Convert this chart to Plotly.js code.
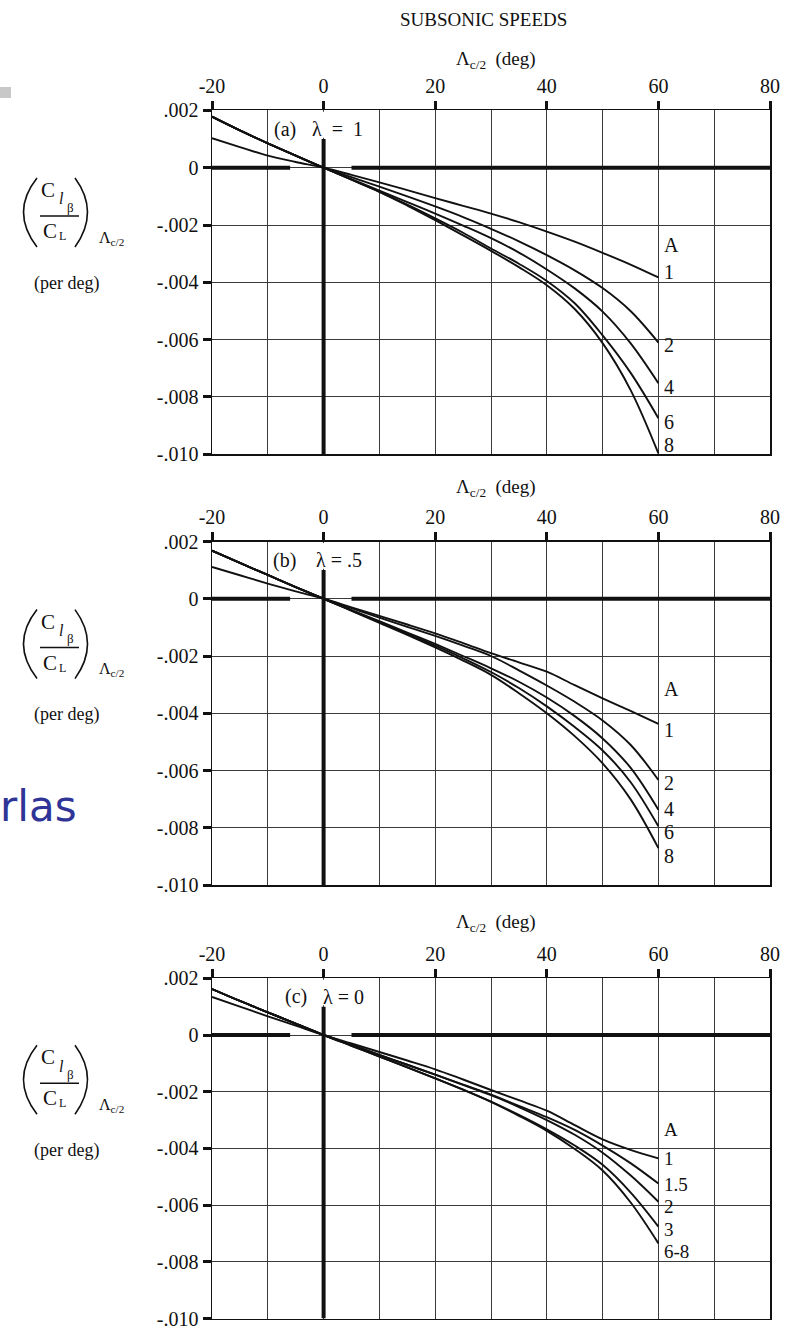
<!DOCTYPE html>
<html>
<head>
<meta charset="utf-8">
<script src="https://cdn.plot.ly/plotly-3.0.1.min.js"></script>
<style>html,body{margin:0;padding:0;background:#fff;}#chart{width:796px;height:1328px;}</style>
</head>
<body>
<div id="chart"></div>
<script>
// ---------- DATA ----------
const sweepDeg = [-20, -15, -10, -5, 0, 5, 10, 15, 20, 25, 30, 35, 40, 45, 50, 55, 60];
const xTickVals = [-20, 0, 20, 40, 60, 80];
const xTickText = ['-20', '0', '20', '40', '60', '80'];
const yTickVals = [0.002, 0, -0.002, -0.004, -0.006, -0.008, -0.010];
const yTickText = ['.002', '0', '-.002', '-.004', '-.006', '-.008', '-.010'];

// (a) taper ratio 1
const a_names = ['1', '2', '4', '6', '8'];
const a_A1 = [0.00103, 0.00072, 0.00042, 0.00020, 0, -0.00025, -0.00051, -0.00078, -0.00106, -0.00133, -0.00160, -0.00190, -0.00223, -0.00258, -0.00297, -0.00338, -0.00383];
const a_A2 = [0.00178, 0.00130, 0.00085, 0.00042, 0, -0.00033, -0.00066, -0.00100, -0.00135, -0.00172, -0.00213, -0.00257, -0.00305, -0.00358, -0.00420, -0.00500, -0.00610];
const a_A4 = [0.00178, 0.00130, 0.00085, 0.00042, 0, -0.00040, -0.00080, -0.00120, -0.00160, -0.00202, -0.00246, -0.00296, -0.00355, -0.00421, -0.00502, -0.00612, -0.00752];
const a_A6 = [0.00178, 0.00130, 0.00085, 0.00042, 0, -0.00042, -0.00084, -0.00129, -0.00177, -0.00227, -0.00282, -0.00335, -0.00395, -0.00473, -0.00585, -0.00715, -0.00874];
const a_A8 = [0.00178, 0.00130, 0.00085, 0.00042, 0, -0.00042, -0.00084, -0.00132, -0.00183, -0.00236, -0.00290, -0.00347, -0.00410, -0.00493, -0.00612, -0.00775, -0.00997];

// (b) taper ratio .5
const b_names = ['1', '2', '4', '6', '8'];
const b_A1 = [0.00111, 0.00082, 0.00053, 0.00026, 0, -0.00030, -0.00060, -0.00090, -0.00121, -0.00155, -0.00190, -0.00222, -0.00255, -0.00302, -0.00348, -0.00392, -0.00437];
const b_A2 = [0.00168, 0.00125, 0.00083, 0.00041, 0, -0.00033, -0.00066, -0.00098, -0.00130, -0.00164, -0.00200, -0.00250, -0.00303, -0.00360, -0.00425, -0.00510, -0.00633];
const b_A4 = [0.00168, 0.00125, 0.00083, 0.00041, 0, -0.00040, -0.00078, -0.00118, -0.00158, -0.00200, -0.00243, -0.00290, -0.00345, -0.00410, -0.00488, -0.00590, -0.00737];
const b_A6 = [0.00168, 0.00125, 0.00083, 0.00041, 0, -0.00041, -0.00082, -0.00123, -0.00164, -0.00208, -0.00256, -0.00312, -0.00376, -0.00448, -0.00530, -0.00640, -0.00795];
const b_A8 = [0.00168, 0.00125, 0.00083, 0.00041, 0, -0.00042, -0.00084, -0.00126, -0.00170, -0.00216, -0.00266, -0.00330, -0.00400, -0.00480, -0.00575, -0.00700, -0.00871];

// (c) taper ratio 0
const c_names = ['1', '1.5', '2', '3', '6-8'];
const c_A1  = [0.00134, 0.00100, 0.00066, 0.00033, 0, -0.00030, -0.00060, -0.00090, -0.00121, -0.00157, -0.00194, -0.00230, -0.00267, -0.00318, -0.00368, -0.00405, -0.00435];
const c_A15 = [0.00162, 0.00120, 0.00080, 0.00040, 0, -0.00035, -0.00070, -0.00105, -0.00140, -0.00175, -0.00210, -0.00250, -0.00290, -0.00335, -0.00390, -0.00452, -0.00524];
const c_A2  = [0.00162, 0.00120, 0.00080, 0.00040, 0, -0.00035, -0.00070, -0.00105, -0.00140, -0.00176, -0.00212, -0.00254, -0.00300, -0.00352, -0.00415, -0.00495, -0.00588];
const c_A3  = [0.00162, 0.00120, 0.00080, 0.00040, 0, -0.00038, -0.00076, -0.00114, -0.00153, -0.00193, -0.00235, -0.00282, -0.00333, -0.00390, -0.00458, -0.00555, -0.00676];
const c_A68 = [0.00162, 0.00120, 0.00080, 0.00040, 0, -0.00038, -0.00076, -0.00114, -0.00153, -0.00193, -0.00236, -0.00285, -0.00338, -0.00402, -0.00478, -0.00590, -0.00735];

const panels = [
  {tag: '(a)', lam: 'λ\u00a0\u00a0=\u00a0\u00a01', tagX: -7.0, lamX: 2.5, names: a_names, series: [a_A1, a_A2, a_A4, a_A6, a_A8],
   labelY: [-0.00364, -0.00620, -0.00764, -0.00889, -0.00966], aY: -0.00270, lfs: 20},
  {tag: '(b)', lam: 'λ\u00a0=\u00a0.5', tagX: -7.0, lamX: 2.8, names: b_names, series: [b_A1, b_A2, b_A4, b_A6, b_A8],
   labelY: [-0.00457, -0.00642, -0.00736, -0.00816, -0.00899], aY: -0.00317, lfs: 20},
  {tag: '(c)', lam: 'λ\u00a0=\u00a00', tagX: -4.9, lamX: 3.6, names: c_names, series: [c_A1, c_A15, c_A2, c_A3, c_A68],
   labelY: [-0.00434, -0.00526, -0.00606, -0.00686, -0.00764], aY: -0.00332, lfs: 19}
];

// ---------- LAYOUT GEOMETRY (pixels) ----------
const W = 796, H = 1328;
const PX = v => v / W;
const PY = v => 1 - v / H;
const plotLeft = 212, plotRight = 770;
const frames = [ {top: 110.4, bottom: 454.3, zero: 167.7, title: 60},
                 {top: 541.5, bottom: 885.0, zero: 599.3, title: 488},
                 {top: 978.3, bottom: 1318.5, zero: 1035.0, title: 923} ];

const serif = 'Liberation Serif, Times New Roman, serif';
const ink = '#111';
const gridCol = '#3a3a3a';
const FS = 20;

const data = [];
const layout = {
  width: W, height: H,
  margin: {l: 0, r: 0, t: 0, b: 0},
  paper_bgcolor: '#fff', plot_bgcolor: '#fff',
  showlegend: false,
  annotations: [], shapes: []
};

const ann = (o) => layout.annotations.push(Object.assign({showarrow: false, xanchor: 'center', yanchor: 'middle'}, o));

panels.forEach((p, i) => {
  const n = i + 1;
  const xa = n === 1 ? 'x' : 'x' + n;
  const ya = n === 1 ? 'y' : 'y' + n;
  const f = frames[i];
  layout['xaxis' + (n === 1 ? '' : n)] = {
    domain: [PX(plotLeft), PX(plotRight)], anchor: ya, side: 'top',
    range: [-20, 80], tickvals: xTickVals, ticktext: xTickText,
    ticks: 'outside', ticklen: 8, tickwidth: 3, tickcolor: ink,
    showgrid: true, gridcolor: gridCol, gridwidth: 1,
    minor: {tickvals: [-10, 10, 30, 50, 70], showgrid: true, gridcolor: gridCol, gridwidth: 1, ticks: ''},
    showline: true, linecolor: ink, linewidth: 1.5, mirror: true, zeroline: false,
    ticklabeloverflow: 'allow',
    tickfont: {family: serif, size: FS, color: ink}, fixedrange: true
  };
  layout['yaxis' + (n === 1 ? '' : n)] = {
    domain: [PY(f.bottom), PY(f.top)], anchor: xa,
    range: [-0.010, 0.002], tickvals: yTickVals, ticktext: yTickText,
    ticks: 'outside', ticklen: 8, tickwidth: 3, tickcolor: ink,
    showgrid: true, gridcolor: gridCol, gridwidth: 1,
    showline: true, linecolor: ink, linewidth: 1.5, mirror: true, zeroline: false,
    ticklabeloverflow: 'allow',
    tickfont: {family: serif, size: FS, color: ink}, fixedrange: true
  };

  p.series.forEach(s => {
    data.push({x: sweepDeg, y: s, xaxis: xa, yaxis: ya, mode: 'lines', hoverinfo: 'skip',
      line: {color: ink, width: 1.9, shape: 'spline', smoothing: 1}});
  });

  // white box behind panel label, thick reference lines
  layout.shapes.push({type: 'rect', xref: xa, yref: ya, x0: -9.5, x1: 9.5, y0: 0.00105, y1: 0.00195,
    fillcolor: '#fff', line: {width: 0}, layer: 'above'});
  layout.shapes.push({type: 'line', xref: xa, yref: ya, x0: -20, x1: -6, y0: 0, y1: 0, line: {color: ink, width: 4}, layer: 'above'});
  layout.shapes.push({type: 'line', xref: xa, yref: ya, x0: 5, x1: 80, y0: 0, y1: 0, line: {color: ink, width: 4}, layer: 'above'});
  layout.shapes.push({type: 'line', xref: xa, yref: ya, x0: 0, x1: 0, y0: -0.010, y1: 0.00100, line: {color: ink, width: 4}, layer: 'above'});

  // panel label
  ann({xref: xa, yref: ya, x: p.tagX, y: 0.00135, text: p.tag, font: {family: serif, size: FS, color: ink}});
  ann({xref: xa, yref: ya, x: p.lamX, y: 0.00135, text: p.lam, font: {family: serif, size: FS, color: ink}});

  // curve labels
  ann({xref: xa, yref: ya, x: 60.6, y: p.aY, text: 'A', xanchor: 'left', font: {family: serif, size: p.lfs, color: ink}});
  p.names.forEach((nm, k) => {
    ann({xref: xa, yref: ya, x: 60.6, y: p.labelY[k], text: nm, xanchor: 'left', font: {family: serif, size: p.lfs, color: ink}});
  });

  // axis title on top
  ann({xref: 'paper', yref: 'paper', x: PX(496), y: PY(f.title),
    text: 'Λ<sub>c/2</sub>  (deg)', font: {family: serif, size: 19, color: ink}});

  // y-axis expression on the left
  const dy = f.zero - frames[0].zero;
  const pth = (x0, y0, cx, cy, x1, y1) =>
    `M ${PX(x0)},${PY(y0 + dy)} Q ${PX(cx)},${PY(cy + dy)} ${PX(x1)},${PY(y1 + dy)}`;
  layout.shapes.push({type: 'path', xref: 'paper', yref: 'paper', path: pth(37, 178, 10, 212, 37, 247), line: {color: ink, width: 1.6}});
  layout.shapes.push({type: 'path', xref: 'paper', yref: 'paper', path: pth(75, 178, 100, 212, 75, 247), line: {color: ink, width: 1.6}});
  layout.shapes.push({type: 'line', xref: 'paper', yref: 'paper', x0: PX(40), x1: PX(79), y0: PY(216 + dy), y1: PY(216 + dy), line: {color: ink, width: 1.5}});
  const t = (x, y, txt, size) => ann({xref: 'paper', yref: 'paper', x: PX(x), y: PY(y + dy),
    text: txt, font: {family: serif, size: size, color: ink}});
  t(48, 190, 'C', 21);
  t(61, 199, '<i>l</i>', 16);
  t(70, 207, 'β', 13);
  t(50, 231, 'C', 21);
  t(62.5, 236, 'L', 12);
  t(111, 238, 'Λ<sub>c/2</sub>', 16);
  t(66, 283, '(per deg)', 18);
});

// page title
ann({xref: 'paper', yref: 'paper', x: PX(483), y: PY(20), text: 'SUBSONIC SPEEDS', font: {family: serif, size: 19, color: ink}});
// slide remnants
ann({xref: 'paper', yref: 'paper', x: PX(-2), y: PY(806), xanchor: 'left', text: 'rlas',
  font: {family: 'DejaVu Sans, Verdana, sans-serif', size: 42, color: '#2f3497'}});
layout.shapes.push({type: 'rect', xref: 'paper', yref: 'paper', x0: 0, x1: PX(11), y0: PY(98), y1: PY(87),
  fillcolor: '#c8c8c8', line: {width: 0}});

Plotly.newPlot('chart', data, layout, {staticPlot: true, displayModeBar: false});
</script>
</body>
</html>
